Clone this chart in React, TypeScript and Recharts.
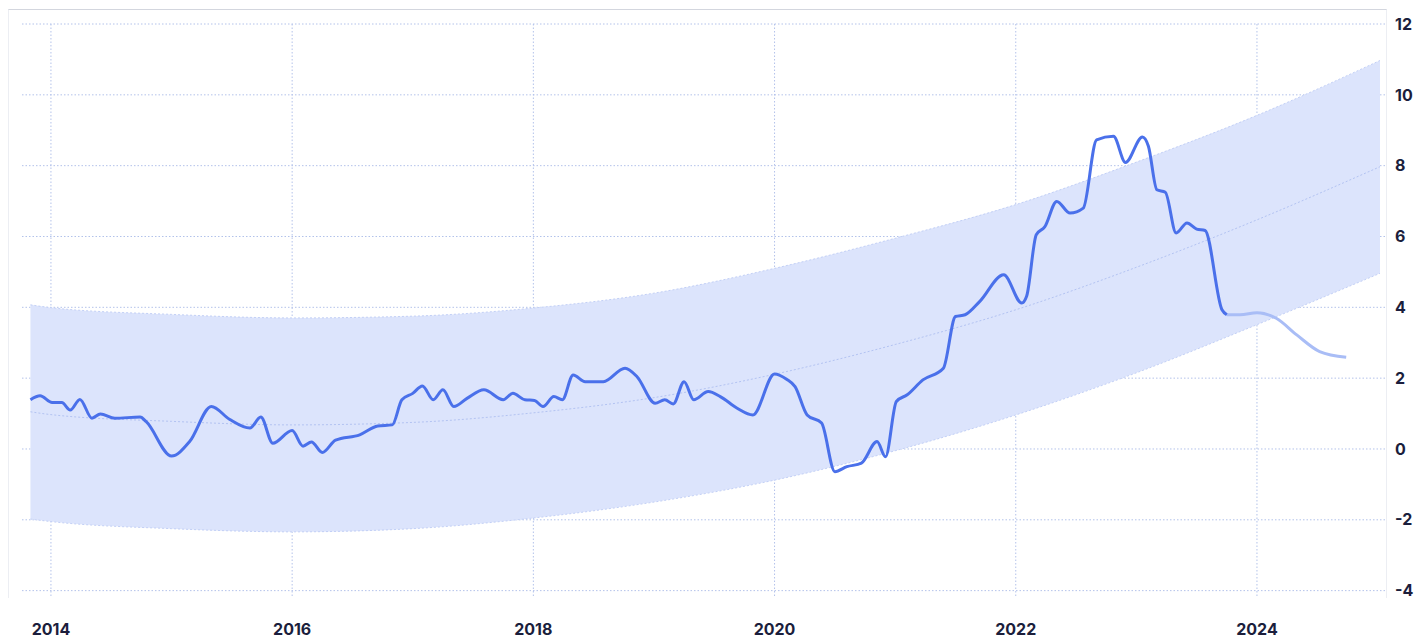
import React from "react";
import { ComposedChart, Area, Line, XAxis, YAxis, CartesianGrid } from "recharts";

// confidence band, read at yearly points
const BAND_YEARS = [2013.83, 2014, 2015, 2016, 2017, 2018, 2019, 2020, 2021, 2022, 2023, 2024, 2025.02];
const BAND_UPPER = [4.07, 3.99, 3.8, 3.7, 3.75, 3.98, 4.4, 5.1, 5.95, 6.9, 8.1, 9.42, 10.97];
const BAND_LOWER = [-1.98, -2.05, -2.25, -2.34, -2.25, -1.95, -1.5, -0.88, -0.05, 0.96, 2.15, 3.51, 4.96];
const BAND_CENTER = [1.05, 0.97, 0.78, 0.68, 0.75, 1.02, 1.45, 2.11, 2.95, 3.93, 5.13, 6.47, 7.97];

// observed series
const LINE_YEARS = [
  2013.83, 2013.91, 2014.01, 2014.09, 2014.16, 2014.24, 2014.34, 2014.41, 2014.53, 2014.74,
  2014.79, 2015.0, 2015.15, 2015.33, 2015.48, 2015.65, 2015.74, 2015.84, 2016.0, 2016.09,
  2016.16, 2016.25, 2016.36, 2016.56, 2016.71, 2016.83, 2016.91, 2017.0, 2017.08, 2017.17,
  2017.25, 2017.34, 2017.45, 2017.59, 2017.75, 2017.83, 2017.93, 2018.01, 2018.08, 2018.17,
  2018.24, 2018.33, 2018.43, 2018.58, 2018.76, 2018.86, 2019.01, 2019.09, 2019.16, 2019.25,
  2019.33, 2019.45, 2019.55, 2019.69, 2019.82, 2020.0, 2020.1, 2020.17, 2020.27, 2020.39,
  2020.5, 2020.6, 2020.72, 2020.85, 2020.92, 2021.01, 2021.1, 2021.23, 2021.4, 2021.5,
  2021.58, 2021.7, 2021.9, 2022.05, 2022.09, 2022.17, 2022.24, 2022.34, 2022.45, 2022.56,
  2022.67, 2022.81, 2022.91, 2023.05, 2023.1, 2023.17, 2023.24, 2023.33, 2023.42, 2023.5,
  2023.57, 2023.71, 2023.75,
];
const LINE_VALUES = [
  1.39, 1.5, 1.31, 1.31, 1.1, 1.4, 0.87, 0.99, 0.87, 0.9,
  0.77, -0.2, 0.21, 1.2, 0.84, 0.59, 0.9, 0.16, 0.52, 0.08,
  0.2, -0.1, 0.25, 0.4, 0.65, 0.68, 1.39, 1.57, 1.78, 1.39,
  1.67, 1.2, 1.43, 1.67, 1.39, 1.57, 1.39, 1.37, 1.2, 1.48,
  1.39, 2.09, 1.9, 1.9, 2.28, 2.04, 1.29, 1.39, 1.27, 1.9,
  1.39, 1.62, 1.48, 1.15, 0.96, 2.12, 1.97, 1.76, 0.96, 0.73,
  -0.64, -0.5, -0.4, 0.21, -0.22, 1.34, 1.53, 1.95, 2.28, 3.74,
  3.79, 4.16, 4.92, 4.12, 4.31, 6.05, 6.27, 6.99, 6.66, 6.8,
  8.73, 8.83, 8.09, 8.81, 8.55, 7.32, 7.25, 6.1, 6.38, 6.21,
  6.17, 3.93, 3.79,
];

// projected tail
const FORECAST_YEARS = [2023.75, 2023.86, 2024.0, 2024.16, 2024.33, 2024.52, 2024.74];
const FORECAST_VALUES = [3.79, 3.79, 3.85, 3.69, 3.22, 2.75, 2.59];

const X_TICKS = [2014, 2016, 2018, 2020, 2022, 2024];
const Y_TICKS = [-4, -2, 0, 2, 4, 6, 8, 10, 12];
const X_DOMAIN = [2013.76, 2025.07];
const Y_DOMAIN = [-4.18, 12];

const bandData = BAND_YEARS.map((x, i) => ({
  x,
  range: [BAND_LOWER[i], BAND_UPPER[i]],
  center: BAND_CENTER[i],
}));
const lineData = LINE_YEARS.map((x, i) => ({ x, value: LINE_VALUES[i] }));
const forecastData = FORECAST_YEARS.map((x, i) => ({ x, value: FORECAST_VALUES[i] }));

const TEXT = "#1b1e3c";
const FONT = "Inter, 'Noto Sans', sans-serif";

// grid only at the ticks, no lines on the plot edges
const verticalLines = ({ offset }: any) =>
  X_TICKS.map(
    (t) => offset.left + ((t - X_DOMAIN[0]) / (X_DOMAIN[1] - X_DOMAIN[0])) * offset.width
  );
const horizontalLines = ({ offset }: any) =>
  Y_TICKS.map(
    (t) => offset.top + ((Y_DOMAIN[1] - t) / (Y_DOMAIN[1] - Y_DOMAIN[0])) * offset.height
  );

export default function App() {
  return (
    <div style={{ position: "relative", width: 1416, height: 640, background: "#fff" }}>
      <style>{"body{margin:0}"}</style>
      <div
        style={{
          position: "absolute",
          left: 8,
          top: 9,
          width: 1377,
          height: 588,
          borderTop: "1px solid #d3d6de",
          borderLeft: "1px solid #eceef3",
          borderRight: "1px solid #eceef3",
        }}
      />
      <ComposedChart
        width={1416}
        height={640}
        margin={{ top: 24, right: 0, bottom: 0, left: 22 }}
        style={{ position: "absolute", left: 0, top: 0 }}
      >
        <CartesianGrid
          stroke="#b3c2ea"
          strokeDasharray="1.5 2"
          strokeWidth={1}
          verticalCoordinatesGenerator={verticalLines}
          horizontalCoordinatesGenerator={horizontalLines}
        />
        <XAxis
          type="number"
          dataKey="x"
          domain={X_DOMAIN}
          ticks={X_TICKS}
          allowDataOverflow
          axisLine={false}
          tickLine={false}
          tickSize={0}
          tickMargin={27}
          height={43}
          tick={{ fill: TEXT, fontSize: 16, fontWeight: 700, fontFamily: FONT }}
        />
        <YAxis
          type="number"
          orientation="right"
          domain={Y_DOMAIN}
          ticks={Y_TICKS}
          allowDataOverflow
          axisLine={false}
          tickLine={false}
          tickSize={0}
          tickMargin={9}
          width={30}
          tick={{ fill: TEXT, fontSize: 16, fontWeight: 700, fontFamily: FONT, textAnchor: "start" }}
        />
        <Area
          data={bandData}
          dataKey="range"
          type="monotone"
          fill="#dce4fc"
          fillOpacity={1}
          stroke="#c3d0f6"
          strokeDasharray="2 2"
          strokeWidth={1}
          isAnimationActive={false}
          dot={false}
          activeDot={false}
        />
        <Line
          data={bandData}
          dataKey="center"
          type="monotone"
          stroke="#b3c3f2"
          strokeDasharray="2 2"
          strokeWidth={1}
          dot={false}
          activeDot={false}
          isAnimationActive={false}
        />
        <Line
          data={forecastData}
          dataKey="value"
          type="monotone"
          stroke="#a9bdf6"
          strokeWidth={3}
          dot={false}
          activeDot={false}
          isAnimationActive={false}
        />
        <Line
          data={lineData}
          dataKey="value"
          type="monotone"
          stroke="#4a70ea"
          strokeWidth={3}
          dot={false}
          activeDot={false}
          isAnimationActive={false}
        />
      </ComposedChart>
    </div>
  );
}
